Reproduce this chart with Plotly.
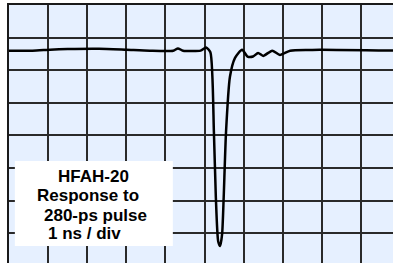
import plotly.graph_objects as go

# Time axis in ns (1 ns / div), amplitude in vertical divisions
time_ns = [0, 0.6, 1.05, 1.5, 2.3, 3.0, 3.6, 4.2, 4.32, 4.45, 4.9, 5.04, 5.15,
           5.24, 5.29, 5.35, 5.40, 5.45, 5.49, 5.55, 5.65, 5.78, 5.96, 6.1,
           6.24, 6.37, 6.5, 6.73, 6.93, 7.19, 7.7, 7.95, 9.9]
amplitude = [6.60, 6.60, 6.63, 6.65, 6.66, 6.63, 6.60, 6.60, 6.67, 6.60, 6.60,
             6.70, 6.55, 4.11, 2.09, 0.75, 0.61, 0.98, 2.09, 4.11, 5.80, 6.38,
             6.63, 6.42, 6.42, 6.53, 6.44, 6.60, 6.47, 6.60, 6.62, 6.63, 6.60]

label_lines = ["HFAH-20", "Response to", "280-ps pulse", "1 ns / div"]

fig = go.Figure()
fig.add_trace(go.Scatter(x=time_ns, y=amplitude, mode="lines",
                         line=dict(color="black", width=2.5, shape="spline", smoothing=0.6),
                         hoverinfo="skip", showlegend=False))

fig.add_shape(type="rect", xref="x", yref="y", x0=0.15, x1=4.19, y0=0.61, y1=3.22,
              fillcolor="white", line=dict(width=0), layer="above")

label_x = [2.17, 2.03, 2.20, 1.93]
label_y = [2.74, 2.16, 1.55, 0.99]
for t, lx, ly in zip(label_lines, label_x, label_y):
    fig.add_annotation(x=lx, y=ly, xref="x", yref="y", text="<b>%s</b>" % t,
                       showarrow=False, xanchor="center", yanchor="middle",
                       font=dict(family="Liberation Sans, Arial", size=17, color="black"))

fig.update_layout(
    width=393, height=263,
    margin=dict(l=9, r=0, t=5, b=0),
    paper_bgcolor="white", plot_bgcolor="#E6F0FF",
    xaxis=dict(range=[0, 9.82], dtick=1, tick0=0, showticklabels=False, ticks="",
               showgrid=True, gridcolor="#2a2a2a", gridwidth=2, zeroline=False,
               showline=True, linecolor="#1a1a1a", linewidth=2, side="top"),
    yaxis=dict(range=[0.09, 8], dtick=1, tick0=0, showticklabels=False, ticks="",
               showgrid=True, gridcolor="#2a2a2a", gridwidth=2, zeroline=False,
               showline=True, linecolor="#1a1a1a", linewidth=2),
)
fig.write_html("out.html", config={"displayModeBar": False},
               post_script="document.body.style.margin='0';document.body.style.overflow='hidden';")
